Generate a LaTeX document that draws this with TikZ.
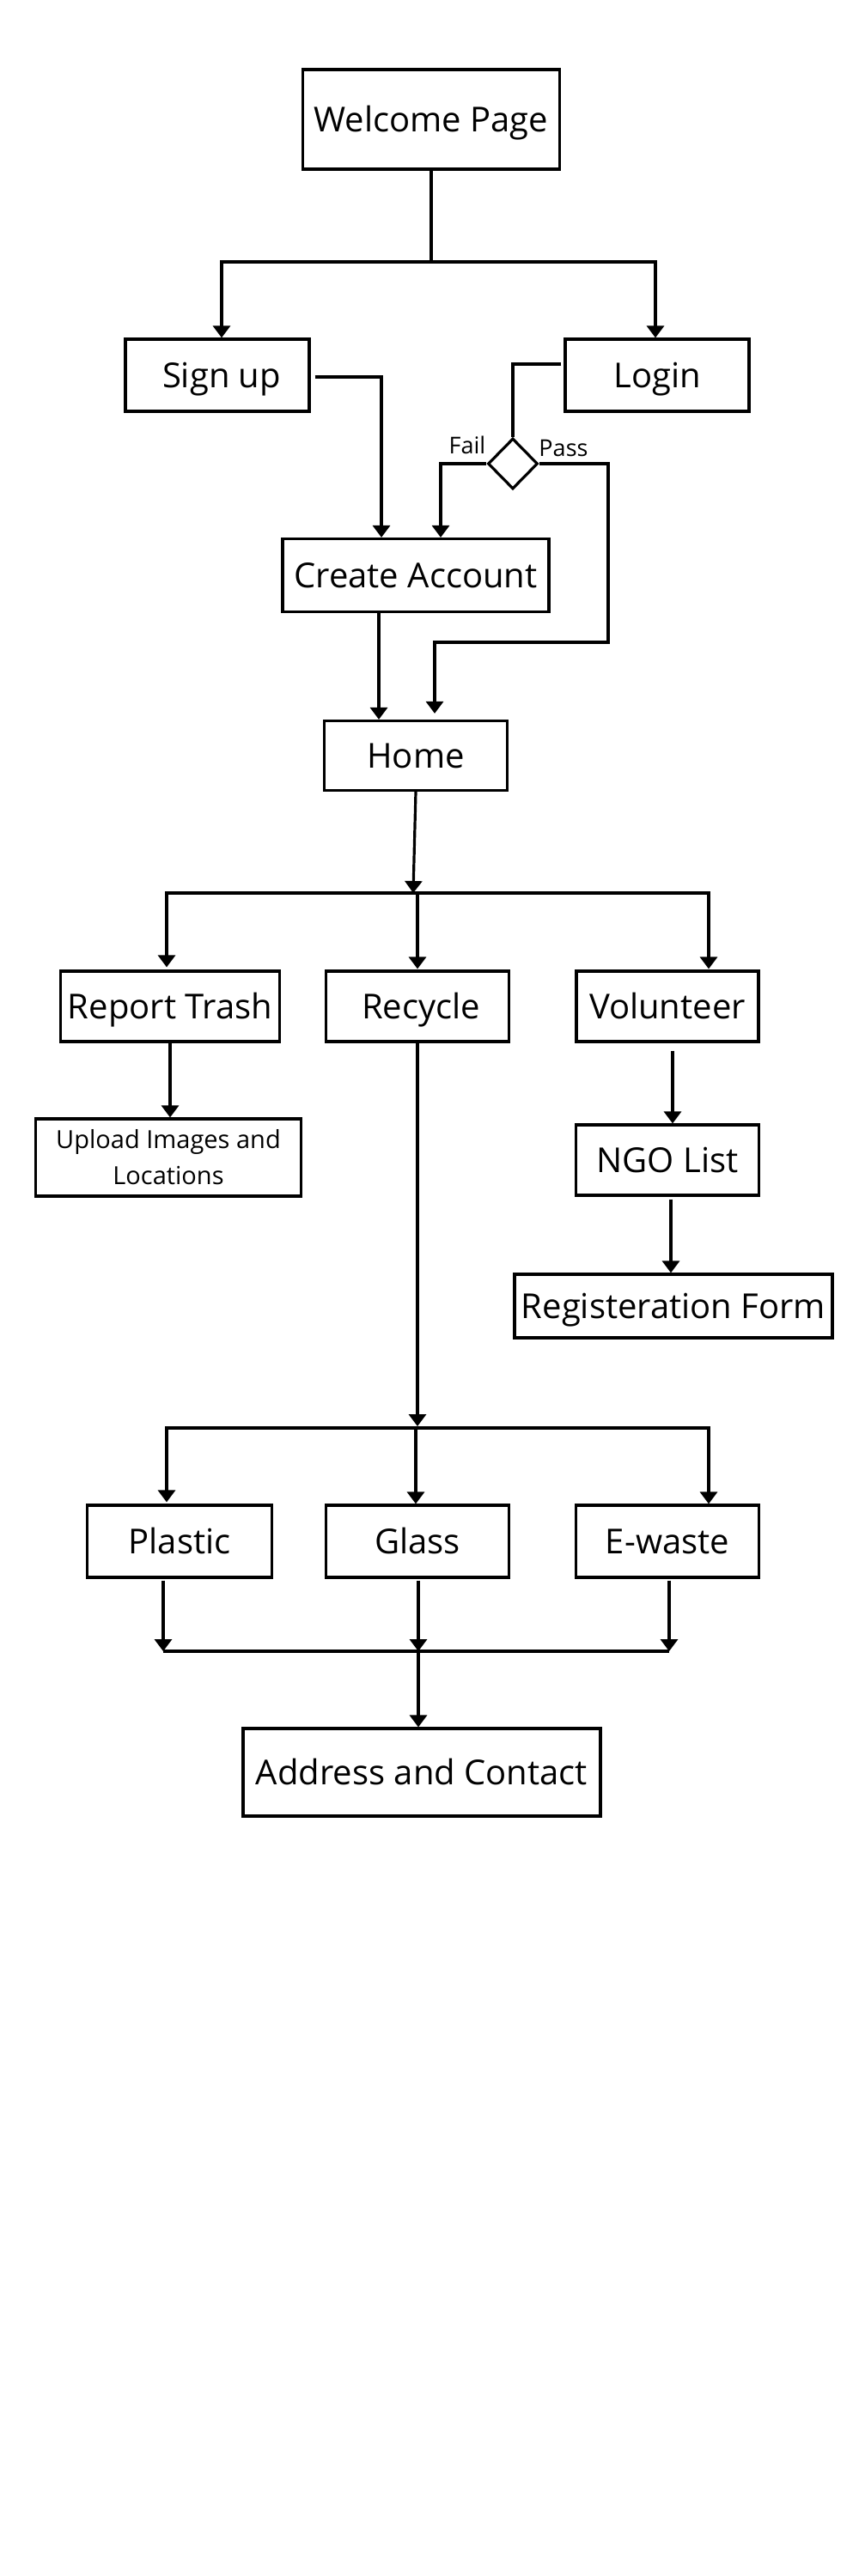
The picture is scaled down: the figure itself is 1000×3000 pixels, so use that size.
\documentclass[tikz,border=0pt]{standalone}
\usepackage{fontspec}
\setmainfont{Open Sans}
\usetikzlibrary{arrows.meta,calc,shapes.geometric}
\begin{document}
\begin{tikzpicture}[x=0.5pt,y=-0.5pt,
  box/.style={draw,line width=1.6pt,rectangle,inner sep=0pt,
    font=\fontsize{20}{24}\selectfont,text height=14.3pt,text depth=0pt},
  arr/.style={line width=1.6pt,-{Triangle[length=7pt,width=10pt]}},
  ln/.style={line width=1.6pt},
  bus/.style={line width=2.2pt},
  lbl/.style={inner sep=0pt,font=\fontsize{13.5}{16}\selectfont}
]
\useasboundingbox (0,0) rectangle (1000,3000);

\node[box,minimum width=149.5pt,minimum height=58pt] (welcome) at (502,139) {Welcome Page};
\node[box,minimum width=107pt,minimum height=42pt] (signup) at (253,437) {\hspace{5pt}Sign up};
\node[box,minimum width=107pt,minimum height=42pt] (login) at (765,437) {Login};
\node[draw,line width=1.6pt,diamond,minimum width=29pt,minimum height=29.5pt,inner sep=0pt] (dec) at (597,540) {};
\node[lbl] (fail) at (544,518) {Fail};
\node[lbl] (pass) at (656,522) {Pass};
\node[box,minimum width=155pt,minimum height=42.5pt] (create) at (484,670) {Create Account};
\node[box,minimum width=106.5pt,minimum height=40.5pt] (home) at (484,880) {Home};
\node[box,minimum width=127.5pt,minimum height=41pt] (report) at (198,1172) {Report Trash};
\node[box,minimum width=106.5pt,minimum height=41pt] (recycle) at (486,1172) {\hspace{4pt}Recycle};
\node[box,minimum width=106pt,minimum height=41pt] (volunteer) at (777,1172) {Volunteer};
\node[draw,line width=1.6pt,rectangle,inner sep=0pt,align=center,
  font=\fontsize{14.5}{21}\selectfont,minimum width=154.5pt,minimum height=45pt] (upload) at (196,1348) {Upload Images and\\Locations};
\node[box,minimum width=106.5pt,minimum height=41pt] (ngo) at (777,1351) {NGO List};
\node[box,minimum width=185pt,minimum height=37pt] (reg) at (784,1521) {Registeration Form};
\node[box,minimum width=107.5pt,minimum height=42pt] (plastic) at (209,1795) {Plastic\hspace{13pt}};
\node[box,minimum width=106.5pt,minimum height=42pt] (glass) at (486,1795) {Glass};
\node[box,minimum width=106.5pt,minimum height=42pt] (ewaste) at (777,1795) {E-waste\hspace{5pt}};
\node[box,minimum width=208pt,minimum height=51pt] (address) at (491,2064) {Address and Contact};

% Welcome -> Sign up / Login
\coordinate (j1) at (502,305);
\coordinate (s0) at ($(signup.north)+(5,0)$);
\coordinate (l0) at ($(login.north)+(-2,0)$);
\draw[ln] (welcome.south) -- (j1);
\draw[arr] (j1) -| (s0);
\draw[arr] (j1) -| (l0);
\draw[bus] (s0 |- j1) -- (l0 |- j1);

% Sign up -> Create Account
\coordinate (s1) at ($(signup.east)+(5,2)$);
\coordinate (c1) at ($(create.north)+(-40,0)$);
\draw[bus] (s1) -- (s1 -| c1);
\draw[arr] (s1) -| (c1);

% Login -> decision
\draw[ln] ($(login.west)+(-3,-13)$) -| (dec.north);

% Fail -> Create Account
\draw[arr] (dec.west) -| ($(create.north)+(29,0)$);

% Pass -> Home
\coordinate (passR) at (708,748);
\draw[arr] (dec.east) -| (passR) -| ($(home.north)+(22,-7)$);

% Create Account -> Home
\draw[arr] ($(create.south)+(-43,0)$) -- ($(home.north)+(-43,0)$);

% Home -> bus -> three branches
\coordinate (j2) at (481,1040);
\coordinate (r0) at ($(report.north)+(-4,-3)$);
\coordinate (v0) at ($(volunteer.north)+(48,-1)$);
\draw[arr] (home.south) -- (j2);
\draw[arr] (j2) -| (r0);
\draw[arr] (j2 -| recycle.north) -- ($(recycle.north)+(0,-1)$);
\draw[arr] (j2) -| (v0);
\draw[bus] (r0 |- j2) -- (v0 |- j2);

% Report -> Upload
\draw[arr] (report.south) -- (report.south |- upload.north);

% Volunteer -> NGO -> Registration
\coordinate (v1) at ($(volunteer.south)+(6,9)$);
\draw[arr] (v1) -- (v1 |- ngo.north);
\coordinate (n1) at ($(ngo.south)+(4,3)$);
\draw[arr] (n1) -- (n1 |- reg.north);

% Recycle -> bus -> materials
\coordinate (j3) at (486,1663);
\coordinate (pl0) at ($(plastic.north)+(-15,-2)$);
\coordinate (ew0) at ($(ewaste.north)+(48,0)$);
\draw[arr] (recycle.south) -- ($(j3)+(0,-2)$);
\draw[arr] (j3) -| (pl0);
\draw[arr] ($(j3)+(-2,0)$) -- ($(glass.north)+(-2,0)$);
\draw[arr] (j3) -| (ew0);
\draw[bus] (pl0 |- j3) -- (ew0 |- j3);

% materials -> bus -> Address
\coordinate (j4) at (487,1923);
\coordinate (p1) at ($(plastic.south)+(-19,2)$);
\coordinate (g1) at ($(glass.south)+(1,2)$);
\coordinate (e1) at ($(ewaste.south)+(2,2)$);
\draw[arr] (p1) -- (p1 |- j4);
\draw[arr] (g1) -- (g1 |- j4);
\draw[arr] (e1) -- (e1 |- j4);
\draw[ln] (p1 |- j4) -- (e1 |- j4);
\draw[arr] (j4) -- (j4 |- address.north);
\end{tikzpicture}
\end{document}
